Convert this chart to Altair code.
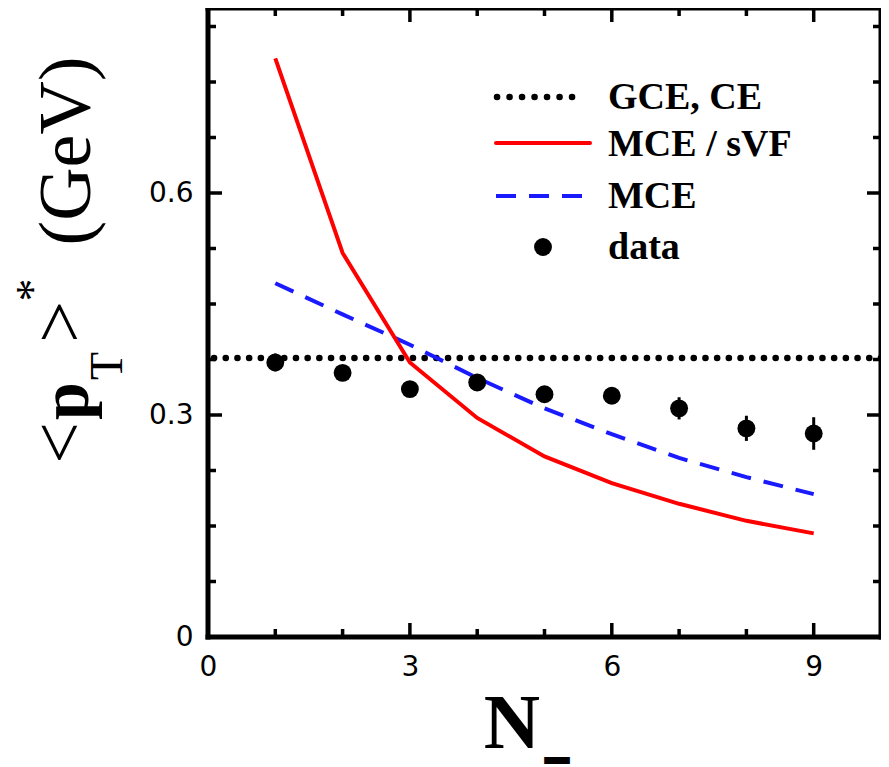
import altair as alt
import pandas as pd

# ---------------- data ----------------
n_vals = [1, 2, 3, 4, 5, 6, 7, 8, 9]
mce_svf = [0.782, 0.519, 0.371, 0.296, 0.244, 0.208, 0.180, 0.157, 0.140]
mce = [0.478, 0.436, 0.395, 0.350, 0.309, 0.274, 0.242, 0.216, 0.193]
data_pt = [0.371, 0.357, 0.335, 0.344, 0.328, 0.326, 0.309, 0.282, 0.275]
data_err = [0.012, 0.010, 0.010, 0.010, 0.010, 0.010, 0.015, 0.017, 0.022]
gce_level = [0.377]

x_label_vals = [0, 3, 6, 9]
y_label_vals = [0, 0.3, 0.6]
x_major = [3, 6, 9]
x_minor = [1, 2, 4, 5, 7, 8]
y_major = [0.3, 0.6]
y_minor = [0.075, 0.15, 0.225, 0.375, 0.45, 0.525, 0.675, 0.75, 0.825]

legend_labels = ["GCE, CE", "MCE / sVF", "MCE", "data"]

# ---------------- layout ----------------
W, H = 673, 629
TW = 3.5
FW = 5
SERIF = "Liberation Serif"

xs = alt.Scale(domain=[0, 10], nice=False, zero=False)
ys = alt.Scale(domain=[0, 0.85], nice=False, zero=False)

xaxis = alt.Axis(values=x_label_vals, title=None, domain=False, ticks=False, grid=False,
                 labelFont="DejaVu Sans", labelFontSize=28, labelColor="black",
                 labelPadding=16, labelFlush=False)
yaxis = alt.Axis(values=y_label_vals, title=None, domain=False, ticks=False, grid=False,
                 labelFont="DejaVu Sans", labelFontSize=28, labelColor="black",
                 labelPadding=15,
                 labelExpr="datum.value == 0 ? '0' : format(datum.value, '.1f')")

X = lambda: alt.X("n:Q", scale=xs, axis=xaxis)
Y = lambda: alt.Y("v:Q", scale=ys, axis=yaxis)

curves = pd.DataFrame({"n": n_vals, "svf": mce_svf, "mce": mce})
pts = pd.DataFrame({"n": n_vals, "v": data_pt, "err": data_err})
pts["lo"] = pts["v"] - pts["err"]
pts["hi"] = pts["v"] + pts["err"]

gce = alt.Chart(pd.DataFrame({"v": gce_level})).mark_rule(
    color="black", strokeWidth=6.5, strokeDash=[0.1, 11.6], strokeCap="round"
).encode(y=Y())

blue = alt.Chart(curves).transform_calculate(v="datum.mce").mark_line(
    color="#1a1aff", strokeWidth=4, strokeDash=[20, 13]
).encode(x=X(), y=Y())

red = alt.Chart(curves).transform_calculate(v="datum.svf").mark_line(
    color="#ff0000", strokeWidth=4
).encode(x=X(), y=Y())

errs = alt.Chart(pts).mark_rule(color="black", strokeWidth=3).encode(
    x=X(), y=alt.Y("lo:Q", scale=ys, axis=yaxis), y2="hi:Q")

dots = alt.Chart(pts).mark_circle(color="black", opacity=1, size=320).encode(x=X(), y=Y())

# inward ticks on all four sides
def xticks(vals, L):
    d = pd.DataFrame({"n": vals})
    b = alt.Chart(d).mark_rule(color="black", strokeWidth=TW).encode(
        x=X(), y=alt.value(H), y2=alt.value(H - L))
    t = alt.Chart(d).mark_rule(color="black", strokeWidth=TW).encode(
        x=X(), y=alt.value(0), y2=alt.value(L))
    return [b, t]

def yticks(vals, L):
    d = pd.DataFrame({"v": vals})
    l = alt.Chart(d).mark_rule(color="black", strokeWidth=TW).encode(
        y=Y(), x=alt.value(0), x2=alt.value(L))
    r = alt.Chart(d).mark_rule(color="black", strokeWidth=TW).encode(
        y=Y(), x=alt.value(W), x2=alt.value(W - L))
    return [l, r]

ticks = xticks(x_major, 14) + xticks(x_minor, 8) + yticks(y_major, 14) + yticks(y_minor, 8)

one = pd.DataFrame({"k": [0]})

# frame drawn explicitly (thick box)
frame = [
    alt.Chart(one).mark_rule(color="black", strokeWidth=FW, strokeCap="square").encode(
        x=alt.value(0), x2=alt.value(W), y=alt.value(0)),
    alt.Chart(one).mark_rule(color="black", strokeWidth=FW, strokeCap="square").encode(
        x=alt.value(0), x2=alt.value(W), y=alt.value(H)),
    alt.Chart(one).mark_rule(color="black", strokeWidth=FW, strokeCap="square").encode(
        y=alt.value(0), y2=alt.value(H), x=alt.value(0)),
    alt.Chart(one).mark_rule(color="black", strokeWidth=FW, strokeCap="square").encode(
        y=alt.value(0), y2=alt.value(H), x=alt.value(W)),
]

# legend
LFONT = dict(font=SERIF, fontWeight="bold", fontSize=38,
             align="left", baseline="alphabetic", color="black")
leg_y = [101, 148, 200, 251]
leg_txt = [alt.Chart(one).mark_text(**LFONT).encode(
    x=alt.value(400), y=alt.value(yy), text=alt.value(lab))
    for lab, yy in zip(legend_labels, leg_y)]
leg_sym = [
    alt.Chart(one).mark_rule(color="black", strokeWidth=6.5, strokeDash=[0.1, 12.4],
                             strokeCap="round").encode(
        x=alt.value(289), x2=alt.value(376), y=alt.value(89)),
    alt.Chart(one).mark_rule(color="#ff0000", strokeWidth=4, strokeCap="round").encode(
        x=alt.value(288), x2=alt.value(382), y=alt.value(135)),
    alt.Chart(one).mark_rule(color="#1a1aff", strokeWidth=4, strokeDash=[20, 13]).encode(
        x=alt.value(288), x2=alt.value(375), y=alt.value(188)),
    alt.Chart(one).mark_circle(color="black", opacity=1, size=320).encode(
        x=alt.value(335), y=alt.value(239)),
]

# y-axis title: <p_T>* (GeV)
def rot(txt, x, y, size, bold=False):
    return alt.Chart(one).mark_text(
        angle=270, font=SERIF, fontSize=size,
        fontWeight="bold" if bold else "normal", align="center",
        baseline="alphabetic", color="black").encode(
        x=alt.value(x), y=alt.value(y), text=alt.value(txt))

ytitle = [
    rot("<", -124, 435, 74),
    rot("p", -120, 393, 68, bold=True),
    rot("T", -86, 358, 46),
    rot(">", -124, 314, 74),
    rot("*", -160, 282, 46),
    rot("(GeV)", -118, 143, 74),
]

# x-axis title: N_
xtitle = [
    alt.Chart(one).mark_text(font=SERIF, fontWeight="bold", fontSize=78,
                             align="center", baseline="alphabetic", color="black").encode(
        x=alt.value(304), y=alt.value(740), text=alt.value("N")),
    alt.Chart(one).mark_text(font=SERIF, fontWeight="bold", fontSize=42,
                             align="center", baseline="alphabetic", color="black",
                             stroke="black", strokeWidth=4).encode(
        x=alt.value(349), y=alt.value(748), text=alt.value("_")),
]

chart = alt.layer(
    gce, blue, red, errs, dots, *ticks, *frame, *leg_sym, *leg_txt, *ytitle, *xtitle
).properties(
    width=W, height=H,
    padding={"left": 200, "top": 0, "right": 0, "bottom": 130},
    autosize=alt.AutoSizeParams(type="none"),
).configure_view(stroke=None)

chart.save("out.html", embed_options={"renderer": "svg", "actions": False})
